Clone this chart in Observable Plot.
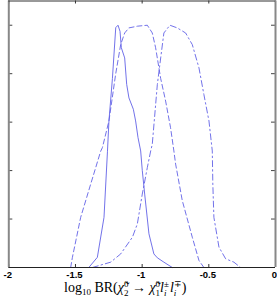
<!DOCTYPE html>
<html>
<head>
<meta charset="utf-8">
<script src="https://cdn.jsdelivr.net/npm/d3@7"></script>
<script src="https://cdn.jsdelivr.net/npm/@observablehq/plot@0.6"></script>
<style>
  body { margin: 0; background: white; }
  svg { display: block; }
</style>
</head>
<body>
<script>
// Tick values
const xTicks = [-2, -1.5, -1, -0.5, 0];
const yTicks = [0.2, 0.4, 0.6, 0.8, 1.0];

// Solid curve
const solidX = [-1.40, -1.336, -1.286, -1.26, -1.249, -1.223, -1.198, -1.181, -1.166, -1.156, -1.131, -1.116, -1.099, -1.066, -1.049, -1.031, -1.011, -0.999, -0.981, -0.949, -0.912, -0.886, -0.837, -0.774];
const solidY = [0, 0.042, 0.207, 0.48, 0.605, 0.78, 0.99, 1.0, 0.975, 0.907, 0.865, 0.756, 0.70, 0.653, 0.605, 0.536, 0.481, 0.40, 0.303, 0.139, 0.056, 0.04, 0.022, 0];

// Dashed curve
const dashX = [-1.536, -1.523, -1.461, -1.386, -1.311, -1.298, -1.249, -1.199, -1.161, -1.131, -1.099, -1.036, -0.961, -0.924, -0.899, -0.861, -0.824, -0.787, -0.762, -0.749, -0.699, -0.624, -0.574, -0.537];
const dashY = [0, 0.042, 0.207, 0.344, 0.48, 0.495, 0.605, 0.797, 0.92, 0.968, 0.989, 0.996, 1.0, 0.968, 0.907, 0.78, 0.687, 0.577, 0.481, 0.427, 0.276, 0.125, 0.029, 0];

// Dash-dot curve
const ddX = [-1.373, -1.236, -1.161, -1.073, -1.036, -0.999, -0.961, -0.936, -0.924, -0.886, -0.861, -0.837, -0.792, -0.737, -0.674, -0.624, -0.574, -0.537, -0.499, -0.474, -0.470, -0.462, -0.424, -0.374, -0.312, -0.262];
const ddY = [0, 0.022, 0.056, 0.125, 0.18, 0.303, 0.413, 0.481, 0.509, 0.756, 0.865, 0.968, 1.0, 0.989, 0.968, 0.92, 0.824, 0.714, 0.605, 0.481, 0.344, 0.207, 0.084, 0.036, 0.022, 0];

const yMax = 1.1;
const lineColor = "#6262e6";

const W = 277, H = 300;
const mL = 8.3, mR = 2, mT = 0.5, mB = 33;
const plotW = W - mL - mR, plotH = H - mT - mB;
const tickLen = 3;

const toPts = (xs, ys) => xs.map((x, i) => ({x, y: ys[i]}));

const chart = Plot.plot({
  width: W, height: H,
  marginLeft: mL, marginRight: mR, marginTop: mT, marginBottom: mB,
  style: {fontFamily: "Liberation Sans, Arial, sans-serif", fontSize: "9px", color: "black", background: "white"},
  x: {domain: [-2, 0], axis: null},
  y: {domain: [0, yMax], axis: null},
  marks: [
    // inward ticks
    Plot.ruleX(xTicks, {x: d => d, insetTop: plotH - tickLen, stroke: "#333", strokeWidth: 1}),
    Plot.ruleX(xTicks, {x: d => d, insetBottom: plotH - tickLen, stroke: "#333", strokeWidth: 1}),
    Plot.ruleY(yTicks, {y: d => d, insetRight: plotW - tickLen - 1, stroke: "#444", strokeWidth: 1}),
    Plot.ruleY(yTicks, {y: d => d, insetLeft: plotW - tickLen - 1, stroke: "#444", strokeWidth: 1}),
    // curves
    Plot.line(toPts(solidX, solidY), {x: "x", y: "y", stroke: lineColor, strokeWidth: 0.9}),
    Plot.line(toPts(dashX, dashY), {x: "x", y: "y", stroke: lineColor, strokeWidth: 0.9, strokeDasharray: "5,3"}),
    Plot.line(toPts(ddX, ddY), {x: "x", y: "y", stroke: lineColor, strokeWidth: 0.9, strokeDasharray: "6,3,1.5,3"}),
    // frame
    Plot.ruleX([-2, 0], {x: d => d, stroke: "#888", strokeWidth: 2}),
    Plot.ruleY([0], {y: d => d, stroke: "#222", strokeWidth: 1}),
    Plot.ruleY([yMax], {y: d => d, stroke: "#333", strokeWidth: 1}),
    // tick labels
    Plot.axisX(xTicks, {anchor: "bottom", tickSize: 0, tickPadding: 4, tickFormat: d => String(d), label: null, fontSize: 9.5, fontWeight: "bold", dx: -1})
  ]
});

document.body.append(chart);

// axis title with stacked sub/superscripts
const t = d3.select(chart).append("text")
  .attr("x", 64).attr("y", 292)
  .attr("text-anchor", "start")
  .attr("font-family", "Liberation Serif, Times New Roman, serif")
  .attr("font-size", 14).attr("fill", "black")
  .style("white-space", "pre");
let shift = 0, pending = 0;
function seg(str, {size = 14, italic = false, off = 0, dx = 0} = {}) {
  const ts = t.append("tspan").text(str).attr("font-size", size).attr("dy", off - shift);
  if (italic) ts.attr("font-style", "italic");
  const d = dx + pending; pending = 0;
  if (d) ts.attr("dx", d);
  shift = off;
  return ts.node();
}
function stack(sup, sub, subItalic = false) {
  const a = seg(sup, {size: 9, off: -5.5});
  const wa = a.getComputedTextLength();
  const b = seg(sub, {size: 9, off: 3.5, dx: -wa, italic: subItalic});
  const wb = b.getComputedTextLength();
  pending = Math.max(0, wa - wb);
}
seg("log");
seg("10", {size: 9, off: 3});
seg(" BR(");
seg("\u03C7\u0303", {italic: true});
stack("0", "2");
seg(" \u2192 ");
seg("\u03C7\u0303", {italic: true});
stack("0", "1");
seg("l", {italic: true});
stack("\u00B1", "i", true);
seg("l", {italic: true, dx: 1});
stack("\u2213", "i", true);
seg(")");
</script>
</body>
</html>
